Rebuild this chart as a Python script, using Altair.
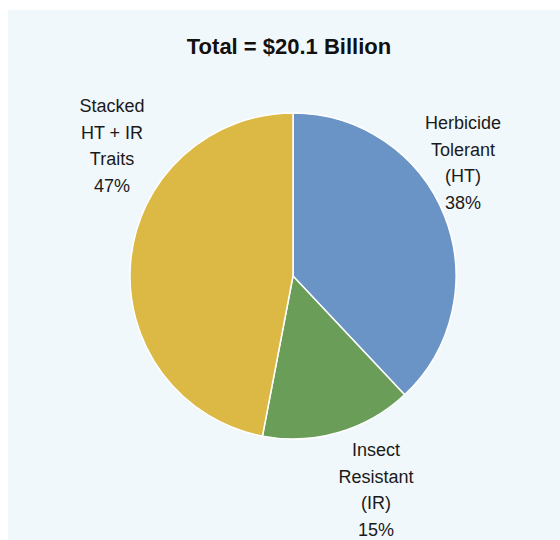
import altair as alt
import pandas as pd

# ---- data ----
categories = ["Herbicide Tolerant (HT)", "Insect Resistant (IR)", "Stacked HT + IR Traits"]
label_text = ["Herbicide\nTolerant\n(HT)", "Insect\nResistant\n(IR)", "Stacked\nHT + IR\nTraits"]
shares = [38, 15, 47]
colors = ["#6a93c6", "#6a9e58", "#dbb944"]
title_text = "Total = $20.1 Billion"

df = pd.DataFrame({
    "category": categories,
    "label": label_text,
    "share": shares,
    "order": list(range(len(categories))),
})

FONT = "Liberation Sans"
CX, CY, R = 285, 266, 163

base = alt.Chart(df)

pie = base.mark_arc(outerRadius=R, stroke="white", strokeWidth=1.5).encode(
    theta=alt.Theta("share:Q", stack=True),
    order=alt.Order("order:Q"),
    color=alt.Color("category:N", scale=alt.Scale(domain=categories, range=colors), legend=None),
    x=alt.value(CX),
    y=alt.value(CY),
)

def label_layer(cat, x, y):
    return base.transform_filter(alt.datum.category == cat).transform_calculate(
        txt="datum.label + '\\n' + datum.share + '%'"
    ).mark_text(
        font=FONT, fontSize=18, lineBreak="\n", lineHeight=26.5,
        align="center", baseline="middle", color="#1a1a1a",
    ).encode(text="txt:N", x=alt.value(x), y=alt.value(y))

lab_ht = label_layer(categories[0], 455, 114)
lab_ir = label_layer(categories[1], 368, 441)
lab_st = label_layer(categories[2], 104, 97)

title = alt.Chart(pd.DataFrame({"t": [title_text]})).mark_text(
    font=FONT, fontSize=22, fontWeight="bold", align="center", baseline="middle", color="#111111"
).encode(text="t:N", x=alt.value(281), y=alt.value(37))

chart = alt.layer(pie, lab_ht, lab_ir, lab_st, title).properties(
    width=552, height=530,
    autosize=alt.AutoSizeParams(type="none"),
    padding={"left": 8, "top": 10, "right": 0, "bottom": 0},
    background="white",
).configure_view(fill="#f1f8fb", stroke=None)

chart.save("out.html", embed_options={"renderer": "svg", "actions": False})
